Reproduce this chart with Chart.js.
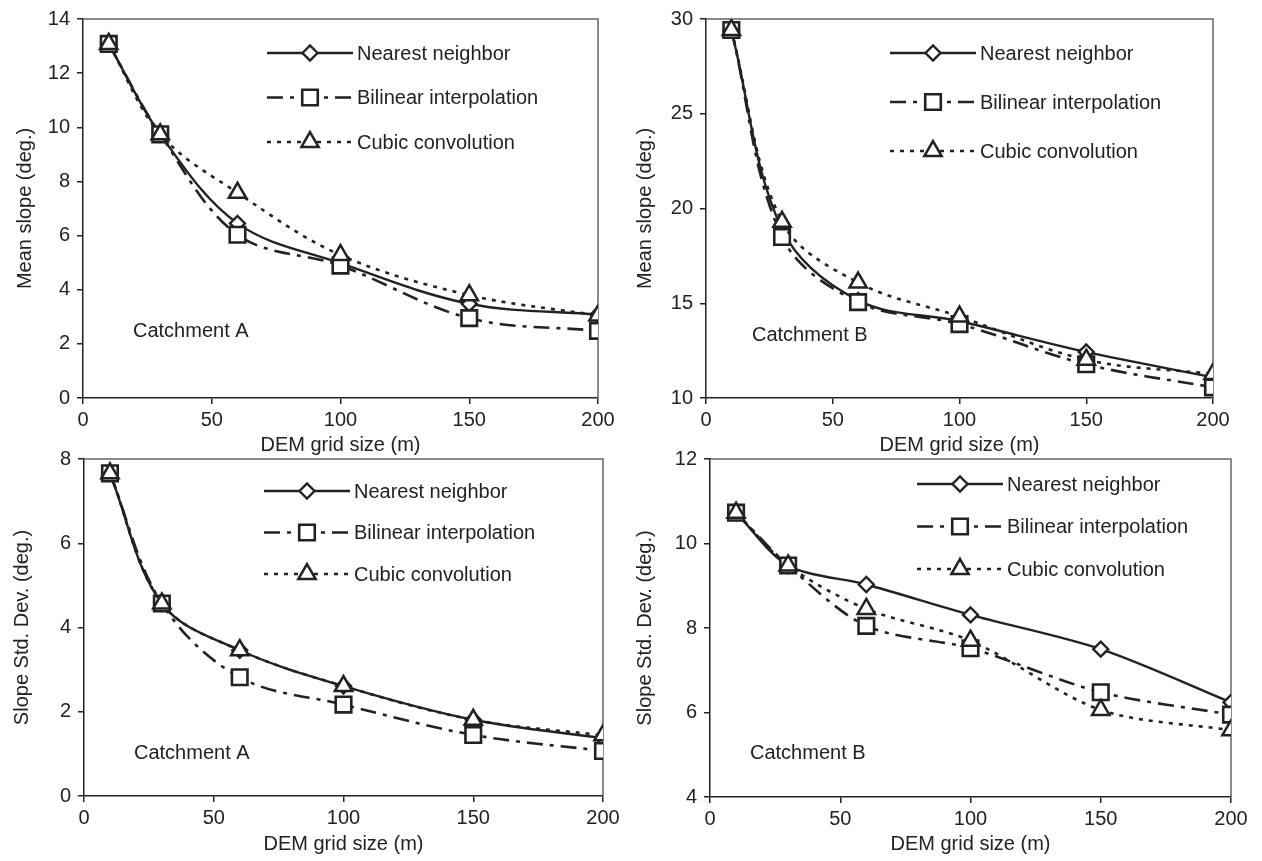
<!DOCTYPE html>
<html><head><meta charset="utf-8">
<script src="https://cdn.jsdelivr.net/npm/chart.js@4.4.1/dist/chart.umd.min.js"></script>
<style>
html,body{margin:0;padding:0;background:#fff;width:1262px;height:861px;overflow:hidden;}
canvas{position:absolute;}
</style></head><body>
<canvas id="c1" width="625" height="460" style="left:0;top:0"></canvas>
<canvas id="c2" width="637" height="460" style="left:625px;top:0"></canvas>
<canvas id="c3" width="625" height="421" style="left:0;top:440px"></canvas>
<canvas id="c4" width="637" height="421" style="left:625px;top:440px"></canvas>
<script>
// ---- data ----
const gridSize = [10, 30, 60, 100, 150, 200];
const seriesNames = ['Nearest neighbor', 'Bilinear interpolation', 'Cubic convolution'];
const xTicks = [0, 50, 100, 150, 200];

const meanA_NN = [13.08, 9.74, 6.45, 4.98, 3.48, 3.08];
const meanA_BI = [13.08, 9.74, 6.03, 4.89, 2.95, 2.48];
const meanA_CC = [13.08, 9.74, 7.58, 5.28, 3.8, 3.05];

const meanB_NN = [29.42, 18.9, 15.15, 14.05, 12.43, 11.09];
const meanB_BI = [29.42, 18.5, 15.06, 13.9, 11.78, 10.56];
const meanB_CC = [29.42, 19.3, 16.09, 14.3, 12.02, 11.27];

const sdA_NN = [7.66, 4.57, 3.46, 2.61, 1.81, 1.37];
const sdA_BI = [7.66, 4.57, 2.82, 2.17, 1.45, 1.07];
const sdA_CC = [7.66, 4.57, 3.46, 2.61, 1.81, 1.44];

const sdB_NN = [10.73, 9.48, 9.03, 8.31, 7.5, 6.24];
const sdB_BI = [10.73, 9.48, 8.05, 7.52, 6.48, 5.95];
const sdB_CC = [10.73, 9.48, 8.45, 7.7, 6.06, 5.58];

const xTitle = 'DEM grid size (m)';
const yTitleMean = 'Mean slope (deg.)';
const yTitleSd = 'Slope Std. Dev. (deg.)';
const catchA = 'Catchment A';
const catchB = 'Catchment B';

// ---- styling ----
const INK = '#222';
const FONT = "'Liberation Sans', Arial, sans-serif";
Chart.defaults.font.family = FONT;
Chart.defaults.color = INK;

function pts(ys) { return gridSize.map((x, i) => ({x: x, y: ys[i]})); }

function makeDatasets(nn, bi, cc) {
  return [
    {label: seriesNames[0], data: pts(nn), borderColor: INK, borderWidth: 2.4, borderDash: [],
     pointStyle: 'rectRot', pointRadius: 7.5, pointBorderWidth: 2.4, pointBackgroundColor: '#fff', pointBorderColor: INK, order: 2},
    {label: seriesNames[1], data: pts(bi), borderColor: INK, borderWidth: 2.6, borderDash: [16, 7, 4, 7],
     pointStyle: 'rect', pointRadius: 11, pointBorderWidth: 2.6, pointBackgroundColor: '#fff', pointBorderColor: INK, order: 1},
    {label: seriesNames[2], data: pts(cc), borderColor: INK, borderWidth: 2.6, borderDash: [4, 6],
     pointStyle: 'triangle', pointRadius: 10, pointBorderWidth: 2.5, pointBackgroundColor: '#fff', pointBorderColor: INK, order: 0}
  ];
}

const framePlugin = {
  id: 'frame',
  beforeDatasetsDraw(chart) {
    const ca = chart.chartArea, ctx = chart.ctx;
    ctx.save();
    ctx.strokeStyle = '#666';
    ctx.lineWidth = 1.5;
    ctx.beginPath();
    ctx.moveTo(ca.left, ca.top); ctx.lineTo(ca.right, ca.top); ctx.lineTo(ca.right, ca.bottom);
    ctx.stroke();
    ctx.restore();
  }
};

const inLegendPlugin = {
  id: 'inLegend',
  afterDatasetsDraw(chart, args, o) {
    const ctx = chart.ctx, ca = chart.chartArea;
    ctx.save();
    chart.data.datasets.forEach((ds, i) => {
      const y = ca.top + o.dy + i * o.gap;
      const x0 = ca.left + o.dx, x1 = x0 + o.len;
      ctx.strokeStyle = ds.borderColor;
      ctx.lineWidth = ds.borderWidth;
      ctx.setLineDash(ds.borderDash || []);
      ctx.beginPath(); ctx.moveTo(x0, y); ctx.lineTo(x1, y); ctx.stroke();
      ctx.setLineDash([]);
      ctx.fillStyle = '#fff';
      ctx.strokeStyle = ds.pointBorderColor;
      ctx.lineWidth = ds.pointBorderWidth;
      Chart.helpers.drawPoint(ctx, {pointStyle: ds.pointStyle, radius: ds.pointRadius * o.mscale, borderWidth: ds.pointBorderWidth, rotation: 0}, (x0 + x1) / 2, y);
      ctx.fillStyle = INK;
      ctx.font = '20px ' + FONT;
      ctx.textBaseline = 'middle';
      ctx.textAlign = 'left';
      ctx.fillText(ds.label, x1 + 4, y + 1);
    });
    ctx.restore();
  }
};

const noteplugin = {
  id: 'note',
  afterDraw(chart, args, o) {
    const ctx = chart.ctx, ca = chart.chartArea;
    ctx.save();
    ctx.fillStyle = INK;
    ctx.font = '20px ' + FONT;
    ctx.textBaseline = 'middle';
    ctx.textAlign = 'left';
    ctx.fillText(o.text, ca.left + o.dx, ca.bottom - o.dy);
    ctx.restore();
  }
};

function makeChart(id, cfg) {
  const ctx = document.getElementById(id);
  return new Chart(ctx, {
    type: 'line',
    data: {datasets: makeDatasets(cfg.nn, cfg.bi, cfg.cc)},
    plugins: [framePlugin, inLegendPlugin, noteplugin],
    options: {
      responsive: false,
      animation: false,
      devicePixelRatio: 1,
      layout: {padding: {left: 0, top: cfg.top, right: cfg.right, bottom: 0}},
      elements: {line: {tension: cfg.tension, fill: false}},
      plugins: {
        legend: {display: false},
        tooltip: {enabled: false},
        inLegend: cfg.legend,
        note: cfg.note
      },
      scales: {
        x: {
          type: 'linear', min: 0, max: 200,
          afterBuildTicks: (s) => { s.ticks = xTicks.map(v => ({value: v})); },
          afterFit: (s) => { s.height = cfg.xh; },
          grid: {display: true, drawOnChartArea: false, drawTicks: true, tickLength: 6, color: INK, lineWidth: 1.5},
          border: {display: true, color: INK, width: 1.5},
          ticks: {font: {size: 20}, color: INK, padding: 4, maxRotation: 0},
          title: {display: true, text: xTitle, font: {size: 20}, color: INK, padding: {top: 0, bottom: cfg.xtp}}
        },
        y: {
          type: 'linear', min: cfg.ymin, max: cfg.ymax,
          afterBuildTicks: (s) => { s.ticks = cfg.yticks.map(v => ({value: v})); },
          afterFit: (s) => { s.width = cfg.yw; },
          grid: {display: true, drawOnChartArea: false, drawTicks: true, tickLength: 6, color: INK, lineWidth: 1.5},
          border: {display: true, color: INK, width: 1.5},
          ticks: {font: {size: 20}, color: INK, padding: 7},
          title: {display: true, text: cfg.ytitle, font: {size: 20}, color: INK, padding: {top: cfg.ytp, bottom: 0}}
        }
      }
    }
  });
}

const ticksMeanA = [0, 2, 4, 6, 8, 10, 12, 14];
const ticksMeanB = [10, 15, 20, 25, 30];
const ticksSdA = [0, 2, 4, 6, 8];
const ticksSdB = [4, 6, 8, 10, 12];

makeChart('c1', {nn: meanA_NN, bi: meanA_BI, cc: meanA_CC, ymin: 0, ymax: 14, yticks: ticksMeanA,
  ytitle: yTitleMean, top: 18, right: 27, yw: 83, xh: 62, xtp: 3, ytp: 13, tension: 0.35,
  legend: {dx: 184, dy: 34, gap: 44.5, len: 86, mscale: 1}, note: {text: catchA, dx: 50, dy: 67}});

makeChart('c2', {nn: meanB_NN, bi: meanB_BI, cc: meanB_CC, ymin: 10, ymax: 30, yticks: ticksMeanB,
  ytitle: yTitleMean, top: 18, right: 49, yw: 81, xh: 62, xtp: 3, ytp: 8, tension: 0.35,
  legend: {dx: 184, dy: 34, gap: 49, len: 86, mscale: 1}, note: {text: catchB, dx: 46, dy: 63}});

makeChart('c3', {nn: sdA_NN, bi: sdA_BI, cc: sdA_CC, ymin: 0, ymax: 8, yticks: ticksSdA,
  ytitle: yTitleSd, top: 19, right: 22, yw: 84, xh: 65, xtp: 5, ytp: 10, tension: 0.35,
  legend: {dx: 180, dy: 32, gap: 41.5, len: 86, mscale: 1}, note: {text: catchA, dx: 50, dy: 43}});

makeChart('c4', {nn: sdB_NN, bi: sdB_BI, cc: sdB_CC, ymin: 4, ymax: 12, yticks: ticksSdB,
  ytitle: yTitleSd, top: 19, right: 31, yw: 85, xh: 64, xtp: 5, ytp: 8, tension: 0.3,
  legend: {dx: 207, dy: 25, gap: 42.5, len: 86, mscale: 1}, note: {text: catchB, dx: 40, dy: 44}});
</script>
</body></html>
